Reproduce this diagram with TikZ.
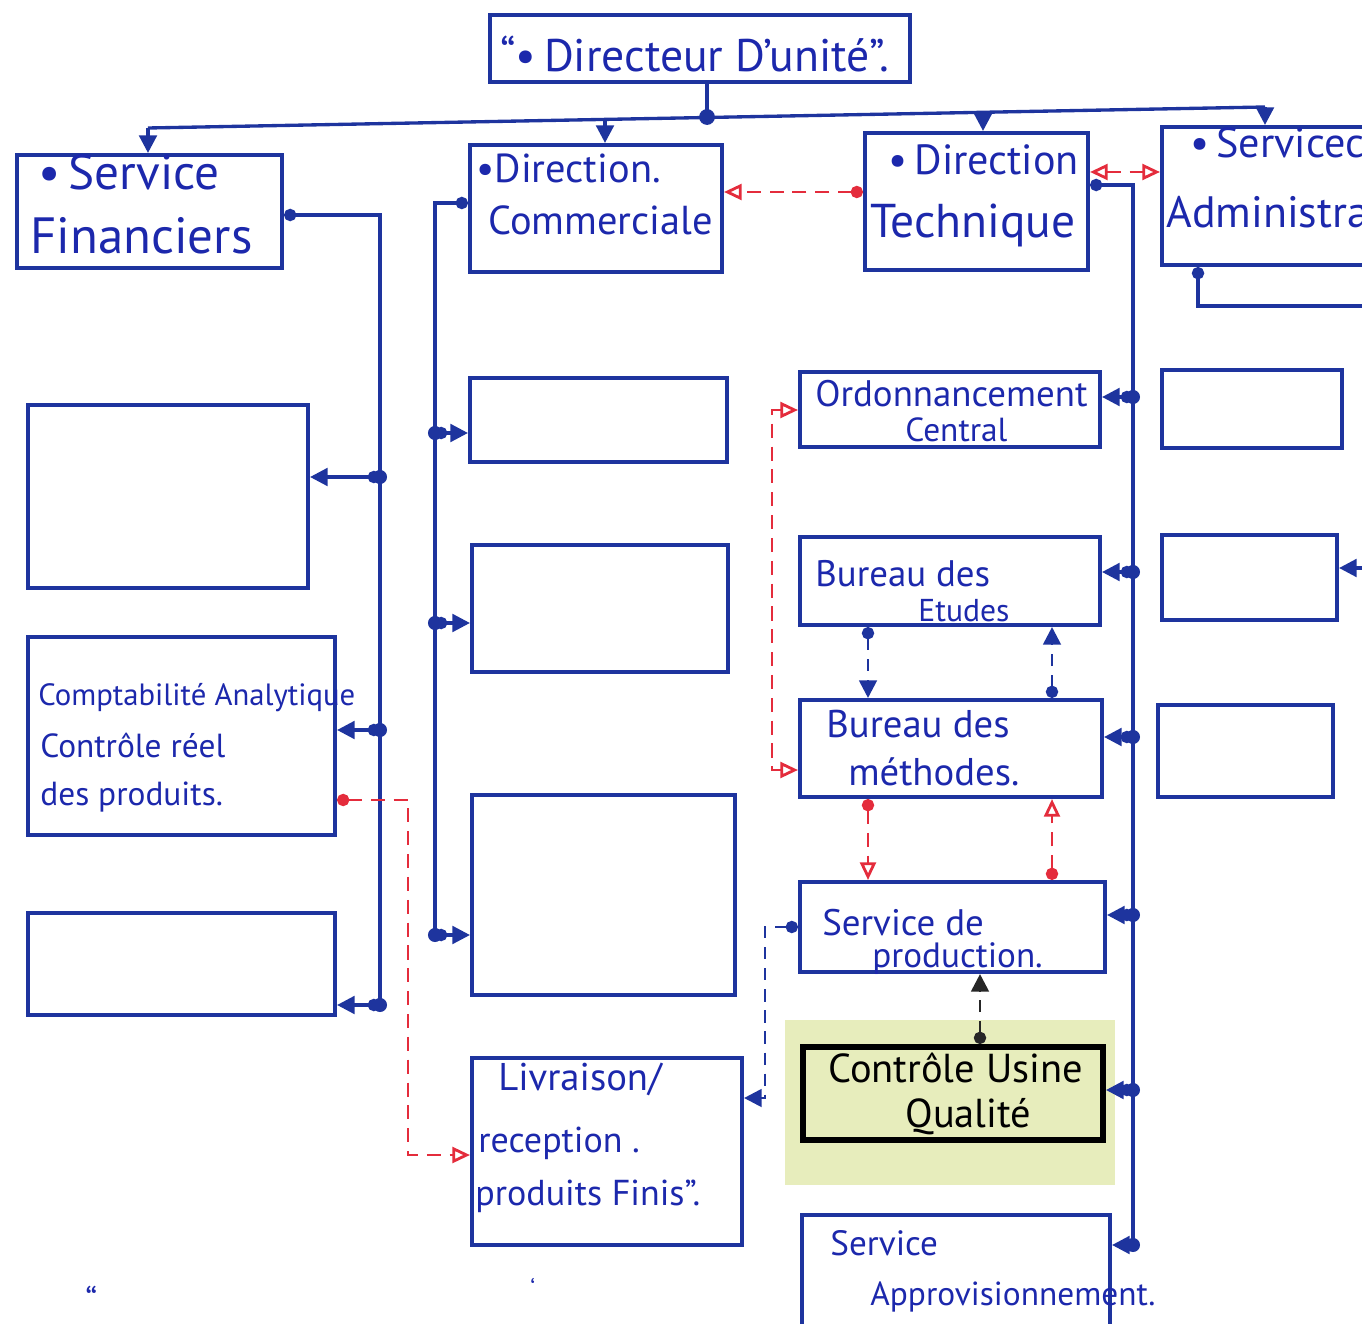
\documentclass[tikz,border=0pt]{standalone}
\usepackage{fontspec}
\setmainfont{PT Sans}
\usetikzlibrary{arrows.meta,fit}
\definecolor{ink}{RGB}{30,52,158}
\definecolor{pen}{RGB}{28,40,172}
\definecolor{redpen}{RGB}{228,44,60}
\definecolor{hilite}{RGB}{231,237,188}
\newcommand\hwsize[1]{\fontsize{#1}{#1}\selectfont}
\begin{document}
\begin{tikzpicture}[x=0.02cm,y=-0.02cm,
  box/.style={draw=ink,line width=2.3pt,inner sep=0pt},
  hot/.style={draw=black,line width=3.4pt,inner sep=0pt},
  bl/.style={draw=ink,line width=1.9pt},
  rd/.style={draw=redpen,line width=1.6pt,dash pattern=on 8pt off 5pt},
  bd/.style={draw=ink,line width=1.6pt,dash pattern=on 7pt off 5pt},
  kd/.style={draw=black!85,line width=1.6pt,dash pattern=on 7pt off 5pt},
  arr/.style={-{Triangle[length=10pt,width=10pt]}},
  dotarr/.style={{Circle[length=7pt]}-{Triangle[length=10pt,width=10pt]}},
  rarr/.style={{Circle[length=7pt]}-{Triangle[open,length=10pt,width=9pt,fill=white]}},
  rdbl/.style={{Triangle[open,length=10pt,width=9pt,fill=white]}-{Triangle[open,length=10pt,width=9pt,fill=white]}},
  dotstart/.style={{Circle[length=7pt]}-},
  hand/.style={text=pen,anchor=base west,inner sep=0pt},
  handk/.style={text=black,anchor=base west,inner sep=0pt},
  jdot/.style={fill=ink}
]
\useasboundingbox (0,0) rectangle (1362,1324);
\clip (0,0) rectangle (1362,1324);

% highlight behind the quality box
\node[fill=hilite,inner sep=0pt,fit={(785,1020)(1115,1185)}] (hl) {};

% boxes
\node[box,fit={(490,15)(910,82)}] (dir) {};
\node[box,fit={(17,155)(282,268)}] (sf) {};
\node[box,fit={(470,145)(722,272)}] (dc) {};
\node[box,fit={(865,133)(1088,270)}] (dt) {};
\node[box,fit={(1162,127)(1420,265)}] (sa) {};
\node[box,fit={(28,405)(308,588)}] (l1) {};
\node[box,fit={(28,637)(335,835)}] (ca) {};
\node[box,fit={(28,913)(335,1015)}] (l3) {};
\node[box,fit={(470,378)(727,462)}] (m1) {};
\node[box,fit={(472,545)(728,672)}] (m2) {};
\node[box,fit={(472,795)(735,995)}] (m3) {};
\node[box,fit={(472,1058)(742,1245)}] (liv) {};
\node[box,fit={(800,372)(1100,447)}] (ord) {};
\node[box,fit={(800,537)(1100,625)}] (be) {};
\node[box,fit={(800,700)(1102,797)}] (bm) {};
\node[box,fit={(800,882)(1105,972)}] (sp) {};
\node[hot,fit={(803,1047)(1103,1140)}] (cuq) {};
\node[box,fit={(802,1215)(1110,1360)}] (sap) {};
\node[box,fit={(1162,370)(1342,448)}] (r1) {};
\node[box,fit={(1162,535)(1337,620)}] (r2) {};
\node[box,fit={(1158,705)(1333,797)}] (r3) {};

% texts
\node[hand,font=\hwsize{26}] (tdir) at (500,72) {“•\,Directeur D'unité”.};
\node[hand,font=\hwsize{28}] (tsf1) at (38,190) {•\,Service};
\node[hand,font=\hwsize{29}] (tsf2) at (30,254) {Financiers};
\node[hand,font=\hwsize{23}] (tdc1) at (476,183) {•Direction.};
\node[hand,font=\hwsize{23}] (tdc2) at (488,235) {Commerciale};
\node[hand,font=\hwsize{24}] (tdt1) at (888,175) {•\,Direction};
\node[hand,font=\hwsize{27}] (tdt2) at (870,238) {Technique};
\node[hand,font=\hwsize{24}] (tsa1) at (1190,158) {•\,Servicec};
\node[hand,font=\hwsize{25}] (tsa2) at (1166,228) {Administratif};
\node[hand,font=\hwsize{21}] (tord1) at (815,406) {Ordonnancement};
\node[hand,font=\hwsize{19}] (tord2) at (905,441) {Central};
\node[hand,font=\hwsize{21}] (tbe1) at (815,586) {Bureau des};
\node[hand,font=\hwsize{18}] (tbe2) at (918,621) {Etudes};
\node[hand,font=\hwsize{22}] (tbm1) at (826,737) {Bureau des};
\node[hand,font=\hwsize{22}] (tbm2) at (848,785) {méthodes.};
\node[hand,font=\hwsize{21}] (tsp1) at (822,935) {Service de};
\node[hand,font=\hwsize{20}] (tsp2) at (872,967) {production.};
\node[handk,font=\hwsize{23}] (tcq1) at (828,1082) {Contrôle Usine};
\node[handk,font=\hwsize{23}] (tcq2) at (905,1127) {Qualité};
\node[hand,font=\hwsize{20}] (tap1) at (830,1255) {Service};
\node[hand,font=\hwsize{19}] (tap2) at (870,1305) {Approvisionnement.};
\node[hand,font=\hwsize{17.5}] (tca1) at (38,705) {Comptabilité Analytique};
\node[hand,font=\hwsize{19}] (tca2) at (40,757) {Contrôle réel};
\node[hand,font=\hwsize{19}] (tca3) at (40,805) {des produits.};
\node[hand,font=\hwsize{22}] (tlv1) at (498,1090) {Livraison/};
\node[hand,font=\hwsize{20.5}] (tlv2) at (478,1152) {reception .};
\node[hand,font=\hwsize{20.5}] (tlv3) at (475,1205) {produits Finis”.};
\node[hand,font=\hwsize{20}] (tq1) at (85,1313) {“};
\node[hand,font=\hwsize{14}] (tq2) at (530,1297) {‘};

% top bus
\coordinate (hub) at (707,117);
\coordinate (busL) at (148,128);
\coordinate (busR) at (1265,107);
\coordinate (bDC) at (605,119.5);
\coordinate (bDT) at (983,112.3);
\draw[bl] (hub |- dir.south) -- (hub);
\draw[bl] (busL) -- (busR);
\fill[jdot] (hub) circle (4.5pt);
\draw[bl,arr] (busL) -- (busL |- sf.north);
\draw[bl,arr] (bDC) -- (bDC |- dc.north);
\draw[bl,arr] (bDT) -- (bDT |- dt.north);
\draw[bl,arr] (busR) -- (busR |- sa.north);

% finance bus
\coordinate (fTop) at (380,215);
\coordinate (f1) at (380,477);
\coordinate (f2) at (380,730);
\coordinate (fBot) at (380,1005);
\draw[bl,dotstart] (sf.east |- fTop) -- (fTop) -- (fBot);
\draw[bl,dotarr] (f1) -- (f1 -| l1.east);
\draw[bl,dotarr] (f2) -- (f2 -| ca.east);
\draw[bl,dotarr] (fBot) -- (fBot -| l3.east);

% commercial bus
\coordinate (cTop) at (435,203);
\coordinate (c1) at (435,433);
\coordinate (c2) at (435,623);
\coordinate (cBot) at (435,935);
\draw[bl,dotstart] (dc.west |- cTop) -- (cTop) -- (cBot);
\draw[bl,dotarr] (c1) -- (c1 -| m1.west);
\draw[bl,dotarr] (c2) -- (c2 -| m2.west);
\draw[bl,dotarr] (cBot) -- (cBot -| m3.west);

% technical bus
\coordinate (tTop) at (1133,185);
\coordinate (t1) at (1133,397);
\coordinate (t2) at (1133,572);
\coordinate (t3) at (1133,737);
\coordinate (t4) at (1133,915);
\coordinate (t5) at (1133,1090);
\coordinate (tBot) at (1133,1245);
\draw[bl,dotstart] (dt.east |- tTop) -- (tTop) -- (tBot);
\draw[bl,dotarr] (t1) -- (t1 -| ord.east);
\draw[bl,dotarr] (t2) -- (t2 -| be.east);
\draw[bl,dotarr] (t3) -- (t3 -| bm.east);
\draw[bl,dotarr] (t4) -- (t4 -| sp.east);
\draw[bl,dotarr] (t5) -- (t5 -| cuq.east);
\draw[bl,dotarr] (tBot) -- (tBot -| sap.east);

% administrative
\coordinate (sa1) at (1198,306);
\coordinate (saEnd) at (1380,306);
\draw[bl,dotstart] (sa.south -| sa1) -- (sa1) -- (saEnd);
\coordinate (r2in) at (1380,568);
\draw[bl,arr] (r2in) -- (r2in -| r2.east);

% red links between directions
\coordinate (dtc) at (800,192);
\draw[rd,rarr] (dt.west |- dtc) -- (dc.east |- dtc);
\coordinate (tsa) at (1125,172);
\draw[rd,rdbl] (dt.east |- tsa) -- (sa.west |- tsa);

% red bracket to ordonnancement and methodes
\coordinate (rb1) at (772,410);
\coordinate (rb2) at (772,770);
\draw[rd,rdbl] (rb1 -| ord.west) -- (rb1) -- (rb2) -- (rb2 -| bm.west);

% etudes <-> methodes
\coordinate (v1) at (868,660);
\coordinate (v2) at (1052,660);
\draw[bd,dotarr] (v1 |- be.south) -- (v1 |- bm.north);
\draw[bd,dotarr] (v2 |- bm.north) -- (v2 |- be.south);

% methodes <-> production
\draw[rd,rarr] (v1 |- bm.south) -- (v1 |- sp.north);
\draw[rd,rarr] (v2 |- sp.north) -- (v2 |- bm.south);

% quality -> production
\coordinate (v3) at (980,1005);
\draw[kd,dotarr] (v3 |- cuq.north) -- (v3 |- sp.south);

% production -> livraison
\coordinate (sl1) at (765,927);
\coordinate (sl2) at (765,1098);
\draw[bd,dotarr] (sp.west |- sl1) -- (sl1) -- (sl2) -- (sl2 -| liv.east);

% comptabilite -> livraison
\coordinate (cl1) at (408,800);
\coordinate (cl2) at (408,1155);
\draw[rd,rarr] (ca.east |- cl1) -- (cl1) -- (cl2) -- (cl2 -| liv.west);

% junction dots on buses
\foreach \p in {f1,f2,fBot,c1,c2,cBot,t1,t2,t3,t4,t5,tBot}
  \fill[jdot] (\p) circle (4pt);
\end{tikzpicture}
\end{document}
